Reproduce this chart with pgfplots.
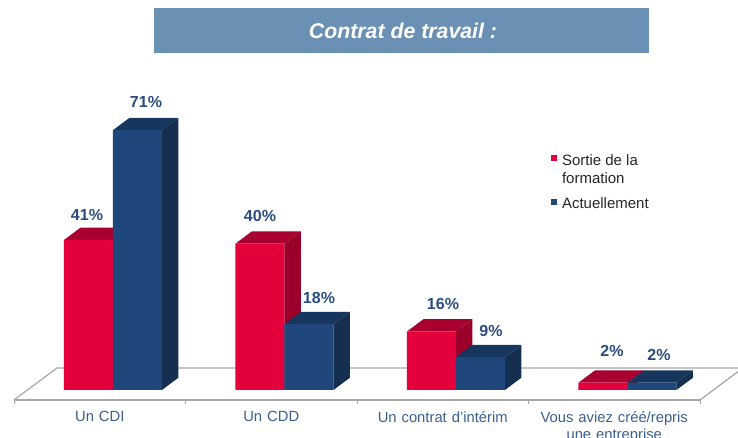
\documentclass[border=0pt]{standalone}
\usepackage{fontspec}
\setmainfont{Liberation Sans}
\usepackage{pgfplots}
\usepackage{pgfplotstable}
\pgfplotsset{compat=1.18}
\definecolor{redfront}{HTML}{E4003A}
\definecolor{redtop}{HTML}{A8002F}
\definecolor{redside}{HTML}{9A0029}
\definecolor{bluefront}{HTML}{1F477B}
\definecolor{bluetop}{HTML}{17365D}
\definecolor{blueside}{HTML}{152F50}
\definecolor{lab}{HTML}{2A4C7E}
\definecolor{ticklab}{HTML}{3B5F8E}
\definecolor{banner}{HTML}{6A90B4}
\definecolor{floor}{HTML}{A6A6A6}
\pgfplotstableread{
x v
0.577 41
1.577 40
2.577 16
3.577 2
}\sortie
\pgfplotstableread{
x v
0.577 71
1.577 18
2.577 9
3.577 2
}\actuel
% depth faces of a bar: left edge, right edge, value, top colour, side colour
\newcommand\depth[5]{%
  \pgfmathsetmacro\xb{#1+0.0962}\pgfmathsetmacro\xc{#2+0.0962}\pgfmathsetmacro\yb{#3+3.36}\pgfmathsetmacro\yd{3.36}%
  \addplot[fill=#4,draw=none,forget plot] coordinates {(#1,#3) (#2,#3) (\xc,\yb) (\xb,\yb)} --cycle;
  \addplot[fill=#5,draw=none,forget plot] coordinates {(#2,0) (#2,#3) (\xc,\yb) (\xc,\yd)} --cycle;
}
\begin{document}
\begin{tikzpicture}
\path[use as bounding box] (0pt,0pt) rectangle (738pt,438pt);
\clip (0pt,0pt) rectangle (738pt,438pt);
\fill[banner] (154pt,385pt) rectangle (649pt,430pt);
\node[text=white,font=\fontsize{21.3}{24}\selectfont\bfseries\itshape] at (403pt,407.5pt) {Contrat de travail :};
\begin{axis}[
  at={(14pt,38pt)},anchor=south west,
  scale only axis,width=686pt,height=390pt,
  xmin=0,xmax=4,ymin=-2.732,ymax=103.83,
  clip=false,
  axis y line=none,axis x line=bottom,
  axis line style={-,floor,line width=1.2pt},
  xtick={0,1,2,3,4},
  xticklabels={Un CDI,Un CDD,Un contrat d'intérim,{Vous aviez créé/repris\\une entreprise}},
  x tick label as interval,
  tick align=outside,
  major tick length=4pt,
  tick style={floor,line width=1pt},
  xticklabel style={text=ticklab,font=\fontsize{14.8}{17}\selectfont,align=center,text width=170pt,yshift=-3.6pt},
  ytick=\empty,
  legend style={at={(axis cs:3.13,65.1)},anchor=north west,draw=none,fill=none,
    font=\fontsize{15}{18}\selectfont,text=black!85,row sep=29pt,inner sep=0pt,
    nodes={inner sep=1pt}},
  legend cell align=left,
]
\addplot[floor,line width=1.2pt,forget plot] coordinates {(0,-2.732) (0.2507,6.01) (4.25,6.01) (4,-2.732)};
\depth{0.2915}{0.577}{41}{redtop}{redside}
\depth{1.2915}{1.577}{40}{redtop}{redside}
\depth{2.2915}{2.577}{16}{redtop}{redside}
\depth{3.2915}{3.577}{2}{redtop}{redside}
\addplot[ybar,bar width=49pt,bar shift=-24.5pt,fill=redfront,draw=none,
  legend image code/.code={\path (0,0) -- (10pt,0);\fill[redfront] (0,-1pt) rectangle (6pt,5pt);}] table[x=x,y=v] {\sortie};
\addlegendentry{\begin{tabular}[t]{@{}l@{}}Sortie de la\\formation\end{tabular}}
\depth{0.577}{0.8625}{71}{bluetop}{blueside}
\depth{1.577}{1.8625}{18}{bluetop}{blueside}
\depth{2.577}{2.8625}{9}{bluetop}{blueside}
\depth{3.577}{3.8625}{2}{bluetop}{blueside}
\addplot[ybar,bar width=49pt,bar shift=24.5pt,fill=bluefront,draw=none,
  legend image code/.code={\path (0,0) -- (10pt,0);\fill[bluefront] (0,-1pt) rectangle (6pt,5pt);}] table[x=x,y=v] {\actuel};
\addlegendentry{Actuellement}
\end{axis}
\foreach \px/\py/\t in {87/223/41,146/336/71,260/222/40,319/140/18,443/134/16,491/107/9,612/87/2,659/83/2}
  \node[text=lab,font=\fontsize{16}{18}\selectfont\bfseries] at (\px pt,\py pt) {\t\%};
\end{tikzpicture}
\end{document}
